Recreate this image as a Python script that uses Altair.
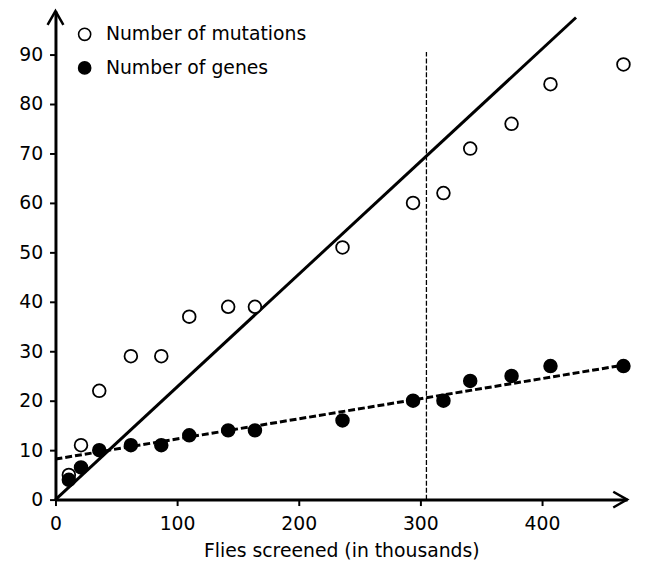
import altair as alt
import pandas as pd

# Data
flies = [11, 21, 36, 62, 87, 110, 142, 164, 236, 294, 319, 341, 375, 407, 467]
mutations = [5, 11, 22, 29, 29, 37, 39, 39, 51, 60, 62, 71, 76, 84, 88]
genes = [4, 6.5, 10, 11, 11, 13, 14, 14, 16, 20, 20, 24, 25, 27, 27]

series_names = ["Number of mutations", "Number of genes"]

# Fitted lines (endpoints as drawn)
mut_fit_x = [0, 428]
mut_fit_y = [0, 97.5]
gen_fit_x = [0, 467]
gen_fit_y = [8.2, 27.2]
cut_x = [305, 305]
cut_y = [0, 90.5]

x_ticks = [0, 100, 200, 300, 400]
y_ticks = [0, 10, 20, 30, 40, 50, 60, 70, 80, 90]
X_MAX = 470
Y_MAX = 98.8

FONT = "DejaVu Sans"
FS = 19

pts = pd.DataFrame(
    {"flies": flies * 2,
     "count": mutations + genes,
     "series": [series_names[0]] * len(flies) + [series_names[1]] * len(flies)}
)

xs = alt.Scale(domain=[0, X_MAX], nice=False, zero=False)
ys = alt.Scale(domain=[0, Y_MAX], nice=False, zero=False)

x_axis = alt.Axis(values=x_ticks, title="Flies screened (in thousands)", grid=False,
                  domainWidth=3, domainColor="black", tickColor="black", tickWidth=2,
                  tickSize=6, labelFont=FONT, labelFontSize=FS, labelColor="black",
                  labelPadding=9, titleFont=FONT, titleFontSize=FS, titleFontWeight="normal",
                  titleColor="black", titlePadding=9, labelFlush=False)
y_axis = alt.Axis(values=y_ticks, title=None, grid=False,
                  domainWidth=3, domainColor="black", tickColor="black", tickWidth=2,
                  tickSize=6, labelFont=FONT, labelFontSize=FS, labelColor="black",
                  labelPadding=7)

base_x = alt.X("x:Q", scale=xs, axis=x_axis)
base_y = alt.Y("y:Q", scale=ys, axis=y_axis)

mut_line = alt.Chart(pd.DataFrame({"x": mut_fit_x, "y": mut_fit_y})).mark_line(
    color="black", strokeWidth=3).encode(x=base_x, y=base_y)
gen_line = alt.Chart(pd.DataFrame({"x": gen_fit_x, "y": gen_fit_y})).mark_line(
    color="black", strokeWidth=3, strokeDash=[7, 3]).encode(x="x:Q", y="y:Q")
cut_line = alt.Chart(pd.DataFrame({"x": cut_x, "y": cut_y})).mark_line(
    color="black", strokeWidth=1.3, strokeDash=[5, 2]).encode(x="x:Q", y="y:Q")

points = alt.Chart(pts).mark_point(
    filled=True, stroke="black", strokeWidth=1.8, size=165, opacity=1
).encode(
    x=alt.X("flies:Q", scale=xs),
    y=alt.Y("count:Q", scale=ys),
    fill=alt.Fill("series:N",
                  scale=alt.Scale(domain=series_names, range=["white", "black"]),
                  legend=alt.Legend(orient="none", legendX=20, legendY=14, title=None,
                                    labelFont=FONT, labelFontSize=FS, labelColor="black",
                                    labelLimit=400,
                                    symbolType="circle", symbolSize=150,
                                    symbolStrokeColor="black", symbolStrokeWidth=1.6,
                                    symbolOpacity=1, rowPadding=14, labelOffset=12,
                                    padding=0)),
)

up_arrow = alt.Chart(pd.DataFrame({"x": [0], "y": [Y_MAX]})).mark_point(
    shape="M -1 1.75 L 0 0 L 1 1.75", filled=False, stroke="black", strokeWidth=2.5,
    size=256, opacity=1).encode(x="x:Q", y="y:Q")
right_arrow = alt.Chart(pd.DataFrame({"x": [X_MAX], "y": [0]})).mark_point(
    shape="M -1.75 -1 L 0 0 L -1.75 1", filled=False, stroke="black", strokeWidth=2.5,
    size=256, opacity=1).encode(x="x:Q", y="y:Q")

chart = alt.layer(mut_line, gen_line, cut_line, points, up_arrow, right_arrow).properties(
    width=578, height=494,
    autosize=alt.AutoSizeParams(type="none"),
    padding={"left": 48, "top": 0, "right": 10, "bottom": 60},
    background="white",
).configure_view(stroke=None)

chart.save("out.html", embed_options={"renderer": "svg", "actions": False})
